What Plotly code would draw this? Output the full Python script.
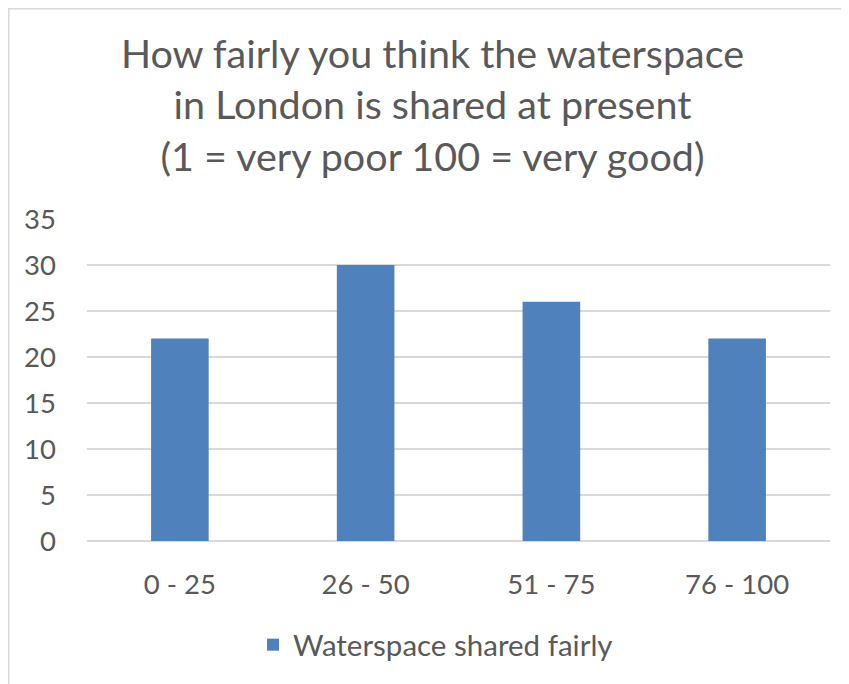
import plotly.graph_objects as go

categories = ["0 - 25", "26 - 50", "51 - 75", "76 - 100"]
values = [22, 30, 26, 22]
series_name = "Waterspace shared fairly"
title_lines = ["How fairly you think the waterspace",
               "in London is shared at present",
               "(1 = very poor 100 = very good)"]

W, H = 849, 684
OFF = 8  # page body margin
L, T = 87 - OFF, 219 - OFF
B = H + OFF - 541
R = W + OFF - 830
pw, ph = W - L - R, H - T - B

fig = go.Figure(go.Bar(x=categories, y=values, name=series_name,
                       marker=dict(color="#4F81BD", line=dict(width=0)),
                       showlegend=True))

font = "Lato, Carlito, Calibri, 'Liberation Sans', sans-serif"
fig.update_layout(
    width=W, height=H,
    margin=dict(l=L, r=R, t=T, b=B),
    paper_bgcolor="white", plot_bgcolor="white",
    font=dict(family=font, color="#595959", size=27),
    title=dict(text="<br>".join(title_lines), x=0.5, xanchor="center",
               y=1 - 60 / H, yanchor="top", yref="container",
               font=dict(size=39.5, color="#595959", family=font)),
    bargap=0.69,
    xaxis=dict(showgrid=False, showline=False, zeroline=False, ticks="",
               ticklabelstandoff=24,
               tickfont=dict(size=27.5, color="#595959")),
    yaxis=dict(range=[0, 35], dtick=5, showgrid=True, gridcolor="#D9D9D9",
               gridwidth=1.5, zeroline=True, zerolinecolor="#D9D9D9",
               zerolinewidth=1.5, showline=False, ticks="",
               ticklabelstandoff=30,
               tickfont=dict(size=27.5, color="#595959")),
    legend=dict(orientation="h", x=0.5 - 23 / pw, xanchor="center",
                y=(0 - 104) / ph, yanchor="middle",
                font=dict(size=29.5, color="#595959")),
    shapes=[dict(type="rect", xref="paper", yref="paper",
                 x0=(0.75 - L) / pw, x1=(W + 20 - L) / pw,
                 y0=-(H + 20 - T - ph) / ph, y1=(T + ph - 0.75) / ph,
                 line=dict(color="#D9D9D9", width=1.5), layer="below")],
)

fig.write_html("out.html")
